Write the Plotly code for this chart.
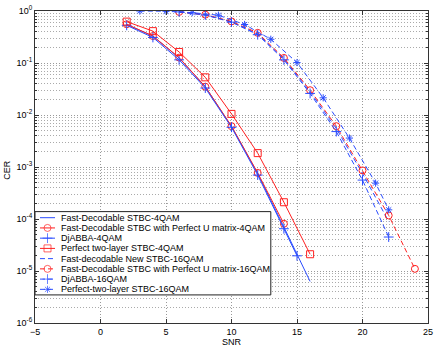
import plotly.graph_objects as go

# ---- data ----
snr_fd4 = [2, 4, 6, 8, 10, 12, 14, 16]
cer_fd4 = [0.55, 0.33, 0.125, 0.035, 0.006, 7.5e-4, 7.0e-5, 6.3e-6]

snr_fdu4 = [2, 4, 6, 8, 10, 12, 14]
cer_fdu4 = [0.556, 0.33, 0.127, 0.035, 6.1e-3, 7.7e-4, 8.1e-5]

snr_dj4 = [2, 4, 6, 8, 10, 12, 14, 15]
cer_dj4 = [0.53, 0.31, 0.115, 0.033, 5.8e-3, 7.0e-4, 6.5e-5, 1.96e-5]

snr_pt4 = [2, 4, 6, 8, 10, 12, 14, 16]
cer_pt4 = [0.625, 0.41, 0.163, 0.053, 0.0105, 1.85e-3, 2.1e-4, 2.1e-5]

snr_fd16 = [6, 8, 10, 12, 14, 16, 18, 20, 22]
cer_fd16 = [0.96, 0.84, 0.62, 0.36, 0.12, 0.028, 5.5e-3, 7.5e-4, 9.0e-5]

snr_fdu16 = [6, 8, 10, 12, 14, 16, 18, 20, 22, 24]
cer_fdu16 = [0.96, 0.85, 0.63, 0.38, 0.125, 0.030, 6.1e-3, 8.6e-4, 1.17e-4, 1.1e-5]

snr_dj16 = [6, 8, 10, 12, 14, 16, 18, 20, 22]
cer_dj16 = [0.96, 0.84, 0.61, 0.35, 0.115, 0.026, 4.8e-3, 5.6e-4, 4.5e-5]

snr_pt16 = [3, 5, 7, 9, 11, 13, 15, 17, 19, 21, 22]
cer_pt16 = [1.0, 0.99, 0.93, 0.83, 0.55, 0.286, 0.102, 0.0214, 3.6e-3, 4.9e-4, 1.5e-4]

names = [
    'Fast-Decodable STBC-4QAM',
    'Fast-Decodable STBC with Perfect U matrix-4QAM',
    'DjABBA-4QAM',
    'Perfect two-layer STBC-4QAM',
    'Fast-decodable New STBC-16QAM',
    'Fast-Decodable STBC with Perfect U matrix-16QAM',
    'DjABBA-16QAM',
    'Perfect-two-layer STBC-16QAM',
]

y_tickvals = [1e-6, 1e-5, 1e-4, 1e-3, 1e-2, 1e-1, 1]
y_ticktext = ['10<sup>-6</sup>', '10<sup>-5</sup>', '10<sup>-4</sup>', '10<sup>-3</sup>',
              '10<sup>-2</sup>', '10<sup>-1</sup>', '10<sup>0</sup>']

BLUE = '#2a4cff'
RED = '#ff2020'
DASH = '5px,3px'

# (x, y, color, dash, marker symbol, marker size)
series = [
    (snr_fd4, cer_fd4, BLUE, 'solid', None, 0),
    (snr_fdu4, cer_fdu4, RED, 'solid', 'circle-open', 7),
    (snr_dj4, cer_dj4, BLUE, 'solid', 'cross-thin-open', 7),
    (snr_pt4, cer_pt4, RED, 'solid', 'square-open', 7),
    (snr_fd16, cer_fd16, BLUE, DASH, None, 0),
    (snr_fdu16, cer_fdu16, RED, DASH, 'circle-open', 7),
    (snr_dj16, cer_dj16, BLUE, DASH, 'cross-thin-open', 7),
    (snr_pt16, cer_pt16, BLUE, DASH, 'asterisk-open', 6),
]

fig = go.Figure()

for (x, y, c, d, sym, sz), name in zip(series, names):
    fig.add_trace(go.Scatter(
        x=x, y=y, name=name, showlegend=False,
        mode='lines+markers' if sym else 'lines',
        line=dict(color=c, width=1, dash=d),
        marker=dict(symbol=sym or 'circle', size=sz, color=c,
                    line=dict(color=c, width=1)),
    ))

# ---- hand-made MATLAB-style legend on an overlay 0..1 axis ----
lx0, lx1, ly0, ly1 = 0.0, 0.6, 0.09, 0.357
fig.add_trace(go.Scatter(
    x=[lx0, lx1, lx1, lx0, lx0], y=[ly0, ly0, ly1, ly1, ly0],
    xaxis='x2', yaxis='y2', mode='lines', fill='toself',
    fillcolor='white', line=dict(color='#222', width=1),
    showlegend=False, hoverinfo='skip'))

row0, step = 0.3375, 0.0328
sx0, sx1, tx = 0.0127, 0.0509, 0.060
for i, ((x, y, c, d, sym, sz), name) in enumerate(zip(series, names)):
    ry = row0 - i * step
    fig.add_trace(go.Scatter(
        x=[sx0, (sx0 + sx1) / 2, sx1], y=[ry, ry, ry],
        xaxis='x2', yaxis='y2',
        mode='lines+markers' if sym else 'lines',
        line=dict(color=c, width=1, dash=d),
        marker=dict(symbol=sym or 'circle', size=[0, sz, 0], color=c,
                    line=dict(color=c, width=1)),
        showlegend=False, hoverinfo='skip'))
    fig.add_annotation(x=tx, y=ry, xref='x2', yref='y2', text=name,
                       showarrow=False, xanchor='left', yanchor='middle',
                       font=dict(size=9, color='black'))

fig.add_annotation(x=0.5, y=-0.062, xref='paper', yref='paper', text='SNR',
                   showarrow=False, xanchor='center', yanchor='middle',
                   font=dict(size=9, color='black'))
fig.add_annotation(x=-0.072, y=0.49, xref='paper', yref='paper', text='CER',
                   showarrow=False, textangle=-90, xanchor='center', yanchor='middle',
                   font=dict(size=9, color='black'))

grid_dash = '1px,2px'
fig.update_layout(
    width=436, height=349,
    margin=dict(l=35, r=8, t=11, b=26),
    plot_bgcolor='white', paper_bgcolor='white',
    font=dict(family='Liberation Sans, Arial, sans-serif', size=9, color='black'),
    showlegend=False,
    xaxis=dict(
        range=[-5, 25], dtick=5, tick0=-5, automargin=False,
        showline=True, mirror='ticks', linecolor='#333', linewidth=1,
        ticks='inside', ticklen=4, tickcolor='#333',
        showgrid=True, gridcolor='#999', griddash=grid_dash, gridwidth=1,
        zeroline=False, tickfont=dict(size=9),
    ),
    yaxis=dict(
        type='log', range=[-6, 0], automargin=False,
        tickvals=y_tickvals, ticktext=y_ticktext,
        showline=True, mirror='ticks', linecolor='#333', linewidth=1,
        ticks='inside', ticklen=4, tickcolor='#333',
        showgrid=True, gridcolor='#999', griddash=grid_dash, gridwidth=1,
        minor=dict(dtick='D1', ticks='inside', ticklen=2, tickcolor='#333',
                   showgrid=True, gridcolor='#aaa', griddash=grid_dash, gridwidth=1),
        zeroline=False, tickfont=dict(size=9),
    ),
    xaxis2=dict(overlaying='x', anchor='y2', range=[0, 1], visible=False,
                automargin=False),
    yaxis2=dict(overlaying='y', anchor='x2', range=[0, 1], visible=False,
                automargin=False),
)

# drop the default 8px page margin so the figure sits flush in the window
fig.write_html("out.html", config={'displayModeBar': False},
               post_script="document.body.style.margin='0';")
